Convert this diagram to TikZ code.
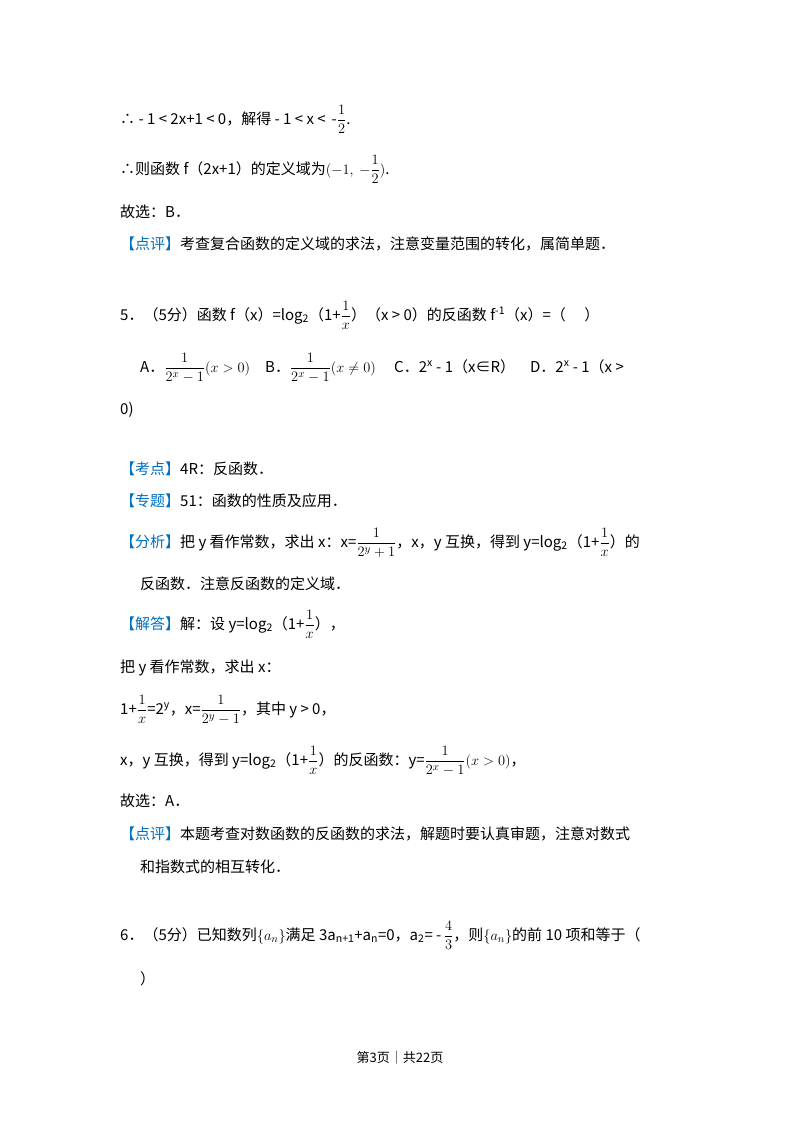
\documentclass[tikz,border=0pt]{standalone}
\usepackage{fontspec}
\setmainfont{Noto Sans CJK SC}
\definecolor{lb}{RGB}{0,112,192}
\newcommand{\lbl}[1]{{\color{lb}【#1】}}
\newcommand{\fr}[2]{$\dfrac{#1}{#2}$}
\usepackage{amsmath}
\begin{document}
\begin{tikzpicture}[x=1pt,y=-1pt,every node/.style={anchor=base west,inner sep=0pt,font=\fontsize{15}{17}\selectfont}]
\useasboundingbox[fill=white](0,0) rectangle (800,1133);
\node (l1) at (120,124) {∴ - 1 < 2x+1 < 0，解得 - 1 < x < \,-\fr{1}{2}.};
\node (l2) at (120,174) {∴则函数 f（2x+1）的定义域为$(-1,\ -\dfrac{1}{2})$.};
\node (l3) at (120,217) {故选：B．};
\node (l4) at (120,249) {\lbl{点评}考查复合函数的定义域的求法，注意变量范围的转化，属简单题．};
\node (l5) at (120,320) {5．（5分）函数 f（x）=log\textsubscript{2}（1+\fr{1}{x}）（x > 0）的反函数 f\textsuperscript{-1}（x）=（\quad\ ）};
\node (l6) at (140,372) {A．\fr{1}{2^{x}-1}$(x>0)$\quad B．\fr{1}{2^{x}-1}$(x\neq0)$\quad\ C．2\textsuperscript{x} - 1（x∈R）\quad D．2\textsuperscript{x} - 1（x >};
\node (l7) at (120,414) {0)};
\node (l8) at (120,474) {\lbl{考点}4R：反函数．};
\node (l9) at (120,506) {\lbl{专题}51：函数的性质及应用．};
\node (l10) at (120,547) {\lbl{分析}把 y 看作常数，求出 x：x=\fr{1}{2^{y}+1}，x，y 互换，得到 y=log\textsubscript{2}（1+\fr{1}{x}）的};
\node (l11) at (140,589) {反函数．注意反函数的定义域．};
\node (l12) at (120,629) {\lbl{解答}解：设 y=log\textsubscript{2}（1+\fr{1}{x}），};
\node (l13) at (120,672) {把 y 看作常数，求出 x：};
\node (l14) at (120,714) {1+\fr{1}{x}=2\textsuperscript{y}，x=\fr{1}{2^{y}-1}，其中 y > 0，};
\node (l15) at (120,765) {x，y 互换，得到 y=log\textsubscript{2}（1+\fr{1}{x}）的反函数：y=\fr{1}{2^{x}-1}$(x>0)$，};
\node (l16) at (120,806) {故选：A．};
\node (l17) at (120,839) {\lbl{点评}本题考查对数函数的反函数的求法，解题时要认真审题，注意对数式};
\node (l18) at (140,872) {和指数式的相互转化．};
\node (l19) at (120,940) {6．（5分）已知数列$\{a_n\}$满足 3a\textsubscript{n+1}+a\textsubscript{n}=0，a\textsubscript{2}= -\,\fr{4}{3}，则$\{a_n\}$的前 10 项和等于（};
\node (l20) at (140,984) {）};
\node[anchor=base,font=\fontsize{13}{15}\selectfont] (ft) at (400,1062) {第3页｜共22页};
\end{tikzpicture}
\end{document}
